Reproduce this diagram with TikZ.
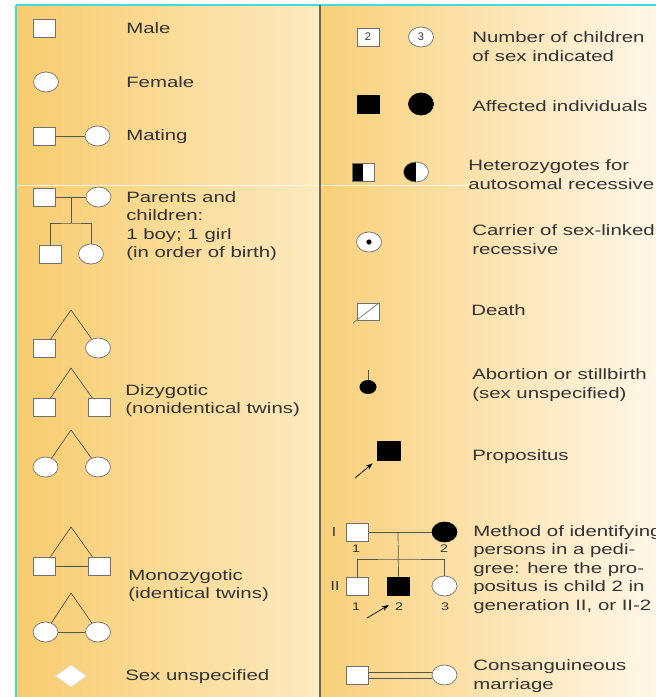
\documentclass[tikz,border=0pt]{standalone}
\usepackage{fontspec}
\setmainfont{Liberation Sans}
\usetikzlibrary{shapes.geometric,arrows.meta}
\definecolor{txtc}{HTML}{333333}
\definecolor{edgec}{HTML}{707070}
\definecolor{linec}{HTML}{555555}
\definecolor{lpanelA}{HTML}{F8CC6E}
\definecolor{lpanelB}{HTML}{FDEAC0}
\definecolor{rpanelA}{HTML}{F9D07A}
\definecolor{rpanelB}{HTML}{FFF7E8}
\definecolor{cyanb}{HTML}{40DCDC}
\definecolor{divc}{HTML}{6A6A6A}
\tikzset{
  mbox/.style={rectangle, draw=edgec, fill=white, minimum width=22pt, minimum height=18pt, inner sep=0pt, line width=0.7pt},
  fem/.style={ellipse, draw=edgec, fill=white, minimum width=25pt, minimum height=20pt, inner sep=0pt, line width=0.7pt},
  aff/.style={fill=black, draw=black},
  ln/.style={draw=linec, line width=0.7pt},
  lbl/.style={anchor=base west, align=left, text=txtc, font=\fontsize{15}{18.5}\selectfont, xscale=1.36, inner sep=0pt},
  num/.style={text=txtc, font=\fontsize{11}{11}\selectfont, xscale=1.3, inner sep=0pt},
  gen/.style={text=txtc, font=\fontsize{13}{13}\selectfont, xscale=1.2, inner sep=0pt},
  arr/.style={draw=black, line width=0.7pt, -{Stealth[length=7pt,width=5pt]}}
}
\begin{document}
\begin{tikzpicture}[x=1pt,y=-1pt]
\clip (0,0) rectangle (656,697);
\fill[white] (0,0) rectangle (656,697);
% panels
\fill[left color=lpanelA, right color=lpanelB] (16,5) rectangle (320,697);
\fill[left color=rpanelA, right color=rpanelB] (320,5) rectangle (656,697);
\draw[white, line width=0.8pt, opacity=0.8] (16,185.5) -- (656,185.5);
\draw[cyanb, line width=2pt] (16,5) -- (656,5);
\draw[cyanb, line width=2pt] (16,5) -- (16,697);
\draw[divc, line width=1.4pt] (320,5) -- (320,697);

% ---------- left column ----------
\node[mbox] (male) at (44,28.5) {};
\node[lbl] (tmale) at (126,33) {Male};

\node[fem] (female) at (46,82) {};
\node[lbl] (tfemale) at (126,87) {Female};

\node[mbox] (matm) at (44,136) {};
\node[fem] (matf) at (97.5,136) {};
\draw[ln] (matm) -- (matf);
\node[lbl] (tmating) at (126,140) {Mating};

% parents and children
\node[mbox] (pm) at (44,197) {};
\node[fem] (pf) at (98.5,197) {};
\draw[ln] (pm) -- (pf);
\coordinate (pj) at (71,197);
\coordinate (pd) at (71,223);
\node[mbox] (cb) at (50,254) {};
\node[fem] (cg) at (91,254) {};
\draw[ln] (pj) -- (pd);
\draw[ln] (cb.north) |- (pd) -| (cg.north);
\node[lbl] (tparents) at (126,257.5) {Parents and\\children:\\1 boy; 1 girl\\(in order of birth)};

% dizygotic twins
\coordinate (ap1) at (71,310);
\node[mbox] (d1m) at (44,348.5) {};
\node[fem] (d1f) at (98,348) {};
\draw[ln] (ap1) -- (d1m); \draw[ln] (ap1) -- (d1f);

\coordinate (ap2) at (71,368);
\node[mbox] (d2m) at (44,407.5) {};
\node[mbox] (d2n) at (99,407.5) {};
\draw[ln] (ap2) -- (d2m); \draw[ln] (ap2) -- (d2n);

\coordinate (ap3) at (71,430);
\node[fem] (d3f) at (45.5,467) {};
\node[fem] (d3g) at (98,467) {};
\draw[ln] (ap3) -- (d3f); \draw[ln] (ap3) -- (d3g);
\node[lbl] (tdizy) at (125,413.5) {Dizygotic\\(nonidentical twins)};

% monozygotic twins
\coordinate (ap4) at (71,527);
\node[mbox] (m1m) at (44,566) {};
\node[mbox] (m1n) at (99,566) {};
\draw[ln] (ap4) -- (m1m); \draw[ln] (ap4) -- (m1n);
\draw[ln] (m1m) -- (m1n);

\coordinate (ap5) at (71,593);
\node[fem] (m2f) at (45.5,632) {};
\node[fem] (m2g) at (98,632) {};
\draw[ln] (ap5) -- (m2f); \draw[ln] (ap5) -- (m2g);
\draw[ln] (m2f) -- (m2g);
\node[lbl] (tmono) at (128,598.5) {Monozygotic\\(identical twins)};

% sex unspecified
\node[diamond, draw=white!75!gray, fill=white, minimum width=31pt, minimum height=22pt, aspect=1.4, inner sep=0pt, line width=0.5pt] (unsp) at (71,676) {};
\node[lbl] (tunsp) at (125,680) {Sex unspecified};

% ---------- right column ----------
\node[mbox] (n2) at (368,37) {\fontsize{11}{11}\selectfont\color{txtc}2};
\node[fem] (n3) at (421,37) {\fontsize{11}{11}\selectfont\color{txtc}3};
\node[lbl] (tnum) at (472,61) {Number of children\\of sex indicated};

\node[mbox, aff] (am) at (368,104.5) {};
\node[fem, aff, minimum height=22pt] (af) at (421,104) {};
\node[lbl] (taff) at (472,111) {Affected individuals};

\node[mbox, path picture={\fill[black] (path picture bounding box.south west) rectangle (path picture bounding box.north);}] (hm) at (363,172.5) {};
\node[fem, path picture={\fill[black] (path picture bounding box.south west) rectangle (path picture bounding box.north);}] (hf) at (416,172) {};
\node[lbl] (thet) at (468,189) {Heterozygotes for\\autosomal recessive};

\node[fem] (carr) at (369,242) {};
\fill[black] (carr.center) circle (2.6pt);
\node[lbl] (tcarr) at (472,254) {Carrier of sex-linked\\recessive};

\node[mbox, minimum height=17pt] (death) at (368,311.5) {};
\coordinate (dth) at (353,323);
\draw[draw=edgec, line width=0.7pt] (dth) -- (death.north east);
\node[lbl] (tdeath) at (471,315) {Death};

\coordinate (abt) at (368,370);
\node[ellipse, fill=black, minimum width=17pt, minimum height=14pt, inner sep=0pt] (abd) at (368,387) {};
\draw[ln] (abt) -- (abd);
\node[lbl] (tabort) at (472,398) {Abortion or stillbirth\\(sex unspecified)};

\node[mbox, aff, minimum width=23pt, minimum height=19pt] (prop) at (388.5,450.5) {};
\coordinate (pa) at (355,478);
\draw[arr] (pa) -- ([shift={(-4,3)}]prop.south west);
\node[lbl] (tprop) at (472,460) {Propositus};

% pedigree example
\node[mbox] (p1) at (357,532) {};
\node[fem, aff] (p2) at (444.5,532) {};
\draw[ln] (p1) -- (p2);
\coordinate (pj2) at (398,532);
\coordinate (sib) at (398,559);
\node[mbox] (c1) at (357,586) {};
\node[mbox, aff] (c2) at (398.5,586) {};
\node[fem] (c3) at (444.5,586) {};
\draw[ln] (c1.north) |- (sib) -| (c3.north);
\draw[ln] (pj2) -- (c2.north);
\node[gen] (gI) at (334,532) {I};
\node[gen] (gII) at (335,586) {II};
\node[num] (l11) at (356,549) {1};
\node[num] (l12) at (444,549) {2};
\node[num] (l21) at (356,607) {1};
\node[num] (l22) at (399,607) {2};
\node[num] (l23) at (445,607) {3};
\coordinate (pa2) at (367,618);
\draw[arr] (pa2) -- ([shift={(-6,-2)}]l22.west);
\node[lbl] (tmeth) at (473,610) {Method of identifying\\persons in a pedi-\\gree: here the pro-\\positus is child 2 in\\generation II, or II-2};

% consanguineous
\node[mbox] (cm) at (357,675) {};
\node[fem] (cf) at (444.5,675) {};
\draw[ln] ([yshift=-3pt]cm.east) -- ([yshift=-3pt]cf.west);
\draw[ln] ([yshift=3pt]cm.east) -- ([yshift=3pt]cf.west);
\node[lbl] (tcons) at (473,689) {Consanguineous\\marriage};
\end{tikzpicture}
\end{document}
